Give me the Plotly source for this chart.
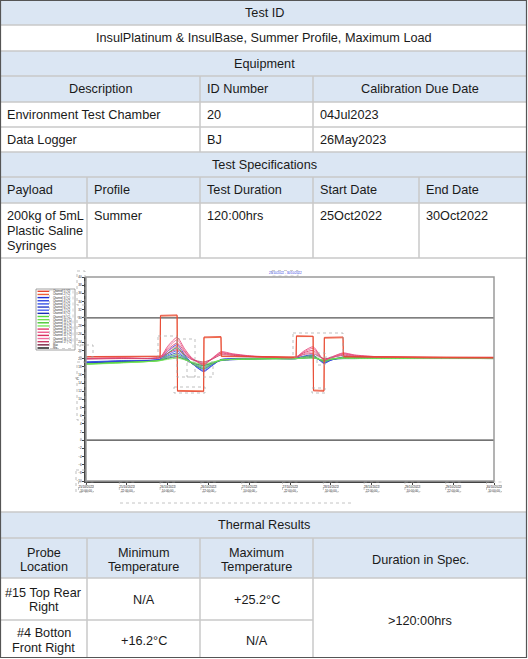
import pandas as pd
import plotly.graph_objects as go

# ---------------- table text ----------------
test_id_title = "Test ID"
test_name = "InsulPlatinum & InsulBase, Summer Profile, Maximum Load"
equipment_title = "Equipment"
equipment_header = ["Description", "ID Number", "Calibration Due Date"]
equipment_rows = [
    ["Environment Test Chamber", "20", "04Jul2023"],
    ["Data Logger", "BJ", "26May2023"],
]
spec_title = "Test Specifications"
spec_header = ["Payload", "Profile", "Test Duration", "Start Date", "End Date"]
spec_row = ["200kg of 5mL\nPlastic Saline\nSyringes", "Summer", "120:00hrs", "25Oct2022", "30Oct2022"]
thermal_title = "Thermal Results"
thermal_header = ["Probe\nLocation", "Minimum\nTemperature", "Maximum\nTemperature", "Duration in Spec."]
thermal_rows = [
    ["#15 Top Rear\nRight", "N/A", "+25.2°C"],
    ["#4 Botton\nFront Right", "+16.2°C", "N/A"],
]
duration_in_spec = ">120:00hrs"

# ---------------- logger data (hours from start, °C) ----------------
t_chamber = [0, 21.8, 21.9, 26.8, 26.9, 34.6, 34.7, 39.7, 39.8, 61.8, 61.9, 66.8, 66.9, 70.0, 70.1, 75.6, 75.7, 120]
chamber_1 = [20.5, 20.6, 30.6, 30.7, 12.0, 11.9, 25.3, 25.4, 20.6, 20.4, 25.6, 25.5, 12.1, 12.0, 25.2, 25.3, 20.5, 20.3]
chamber_2 = [20.4, 20.5, 30.4, 30.5, 12.2, 12.1, 25.1, 25.2, 20.5, 20.3, 25.4, 25.4, 12.3, 12.2, 25.0, 25.1, 20.4, 20.2]

t_probe = [0, 10, 21.8, 24, 26.8, 29, 31, 34.6, 37, 39.7, 43, 48, 55, 61.8, 64, 66.8, 70, 72, 75.6, 79, 85, 100, 120]
probe_3 = [19.2, 19.5, 19.9, 21.8, 23.4, 21.0, 19.0, 16.8, 18.2, 19.8, 20.0, 20.1, 20.1, 20.1, 20.6, 20.9, 18.8, 19.6, 20.4, 20.3, 20.2, 20.2, 20.2]
probe_4 = [19.1, 19.4, 19.8, 21.3, 22.6, 20.7, 18.9, 17.0, 18.3, 19.7, 19.9, 20.0, 20.1, 20.1, 20.5, 20.7, 19.0, 19.6, 20.3, 20.2, 20.2, 20.2, 20.1]
probe_5 = [19.1, 19.4, 19.8, 20.9, 21.9, 20.4, 18.9, 17.3, 18.5, 19.7, 19.9, 20.0, 20.0, 20.0, 20.4, 20.6, 19.1, 19.7, 20.3, 20.2, 20.1, 20.1, 20.1]
probe_6 = [19.0, 19.3, 19.7, 20.6, 21.4, 20.2, 18.9, 17.6, 18.6, 19.6, 19.8, 19.9, 20.0, 20.0, 20.3, 20.5, 19.3, 19.7, 20.2, 20.1, 20.1, 20.1, 20.1]
probe_7 = [19.0, 19.3, 19.7, 20.3, 20.9, 20.0, 19.0, 17.9, 18.8, 19.6, 19.8, 19.9, 20.0, 20.0, 20.2, 20.3, 19.4, 19.8, 20.1, 20.1, 20.1, 20.1, 20.1]
probe_8 = [18.9, 19.2, 19.6, 20.1, 20.5, 19.8, 19.0, 18.3, 18.9, 19.5, 19.7, 19.9, 20.0, 20.0, 20.1, 20.2, 19.5, 19.8, 20.0, 20.0, 20.1, 20.1, 20.0]
probe_9 = [18.7, 19.1, 19.6, 21.2, 22.8, 20.6, 18.9, 17.5, 18.6, 19.7, 19.8, 19.9, 20.0, 20.0, 20.4, 20.7, 19.2, 19.8, 20.3, 20.2, 20.1, 20.1, 20.1]
probe_10 = [18.7, 19.0, 19.6, 20.4, 21.0, 20.0, 19.0, 17.9, 18.8, 19.6, 19.8, 19.9, 20.0, 20.0, 20.2, 20.4, 19.4, 19.8, 20.2, 20.1, 20.1, 20.1, 20.1]
probe_11 = [18.6, 19.0, 19.5, 20.0, 20.4, 19.8, 19.1, 18.3, 19.0, 19.6, 19.8, 19.9, 20.0, 20.0, 20.1, 20.2, 19.6, 19.9, 20.1, 20.1, 20.1, 20.1, 20.0]
probe_12 = [18.6, 18.9, 19.5, 19.8, 20.1, 19.7, 19.2, 18.6, 19.1, 19.6, 19.8, 19.9, 19.9, 20.0, 20.1, 20.1, 19.7, 19.9, 20.0, 20.0, 20.0, 20.0, 20.0]
probe_13 = [20.1, 20.2, 20.4, 23.0, 25.2, 22.4, 20.3, 18.4, 20.0, 21.7, 21.2, 20.7, 20.4, 20.4, 21.8, 22.9, 19.6, 20.3, 21.4, 20.9, 20.5, 20.3, 20.3]
probe_14 = [20.0, 20.2, 20.3, 22.6, 24.6, 22.0, 20.1, 18.6, 19.9, 21.5, 21.1, 20.6, 20.4, 20.4, 21.6, 22.5, 19.7, 20.3, 21.3, 20.8, 20.5, 20.3, 20.3]
probe_15 = [20.0, 20.1, 20.3, 22.2, 23.8, 21.7, 20.0, 18.8, 19.9, 21.3, 21.0, 20.6, 20.3, 20.3, 21.4, 22.0, 19.8, 20.2, 21.1, 20.7, 20.4, 20.3, 20.2]
probe_16 = [19.9, 20.1, 20.2, 21.8, 23.0, 21.4, 19.9, 19.0, 19.9, 21.1, 20.9, 20.5, 20.3, 20.3, 21.2, 21.6, 19.9, 20.2, 21.0, 20.6, 20.4, 20.2, 20.2]
probe_17 = [19.9, 20.0, 20.2, 21.3, 22.2, 21.0, 19.8, 19.2, 19.8, 20.9, 20.8, 20.5, 20.3, 20.3, 21.0, 21.2, 20.0, 20.2, 20.8, 20.5, 20.4, 20.2, 20.2]

limit_hours = [0, 120]
upper_limit = [30, 30]
lower_limit = [0, 0]

start_time = pd.Timestamp("2022-10-25 10:00:00")
hour_ticks = list(range(0, 121, 12))
temp_ticks = list(range(-10, 41, 2))

legend_names = [f"Channel {i} (°C)" for i in range(1, 18)] + ["Max", "Min"]
legend_colors = ["#e5432f", "#f0603a",
                 "#1f2fd6", "#2f45e0", "#3a55e8", "#2538c8", "#4a60f0", "#1b2bb8",
                 "#55d93a", "#6ee04e", "#48c830", "#7ae860",
                 "#e23a6e", "#ec5a8c", "#d8305e", "#f070a0", "#c83a64",
                 "#7b2040", "#111111"]

# ---------------- helpers (pixel -> paper) ----------------
W, H = 528, 659
FONT = "Liberation Sans, Arial, Helvetica, sans-serif"
BLUE = "#dbe6f3"
GRID = "#c9c9c9"


def px(x):
    return x / W


def py(y):
    return 1 - y / H


shapes = []
annotations = []


def rect(x0, y0, x1, y1, fill=None, line=None, width=1, dash=None):
    shapes.append(dict(type="rect", xref="paper", yref="paper",
                       x0=px(x0), x1=px(x1), y0=py(y0), y1=py(y1),
                       fillcolor=fill or "rgba(0,0,0,0)",
                       line=dict(color=line or "rgba(0,0,0,0)", width=width if line else 0, dash=dash),
                       layer="below" if fill else "above"))


def hline(y, x0, x1, color=GRID, width=1.5, dash=None):
    shapes.append(dict(type="line", xref="paper", yref="paper", x0=px(x0), x1=px(x1), y0=py(y), y1=py(y),
                       line=dict(color=color, width=width, dash=dash)))


def vline(x, y0, y1, color=GRID, width=1.5):
    shapes.append(dict(type="line", xref="paper", yref="paper", x0=px(x), x1=px(x), y0=py(y0), y1=py(y1),
                       line=dict(color=color, width=width)))


def put(text, x, y, anchor="left", lh=15, top=False, size=12.7, color="#1a1a1a"):
    lines = text.split("\n")
    n = len(lines)
    for i, ln in enumerate(lines):
        yy = y + i * lh if top else y + (i - (n - 1) / 2) * lh
        annotations.append(dict(text=ln, x=px(x), y=py(yy), xref="paper", yref="paper",
                                xanchor=anchor, yanchor="middle", showarrow=False,
                                font=dict(family=FONT, size=size, color=color)))


def cell_text(text, c0, c1, y, align, **kw):
    if align == "center":
        put(text, (c0 + c1) / 2, y, "center", **kw)
    else:
        put(text, c0 + 5, y, "left", **kw)


# ---------------- table ----------------
row_y = [0, 25, 51, 76, 102, 127, 152, 177, 203, 258, 512, 538, 578, 620, 658]
blue_rows = [(0, 25), (51, 76), (76, 102), (152, 177), (177, 203), (512, 538), (538, 578)]
eq_cols = [0, 200, 313, 527]
spec_cols = [0, 87, 200, 313, 419, 527]
th_cols = [0, 87, 200, 313, 527]

for y0, y1 in blue_rows:
    rect(0, y0, 527, y1, fill=BLUE)
for y in row_y[1:-1]:
    hline(y, 0, 313 if y == 620 else 527)
for x in eq_cols[1:-1]:
    vline(x, 76, 152)
for x in spec_cols[1:-1]:
    vline(x, 177, 258)
for x in th_cols[1:-1]:
    vline(x, 538, 658)

put(test_id_title, 264, 13, "center")
put(test_name, 264, 38, "center")
put(equipment_title, 264, 63.5, "center")
for j, txt in enumerate(equipment_header):
    cell_text(txt, eq_cols[j], eq_cols[j + 1], 89, ["center", "left", "center"][j])
for i, row in enumerate(equipment_rows):
    for j, txt in enumerate(row):
        cell_text(txt, eq_cols[j], eq_cols[j + 1], 114.5 + 25 * i, "left")
put(spec_title, 264, 165, "center")
for j, txt in enumerate(spec_header):
    cell_text(txt, spec_cols[j], spec_cols[j + 1], 190, "left")
for j, txt in enumerate(spec_row):
    cell_text(txt, spec_cols[j], spec_cols[j + 1], 216, "left", top=True)
put(thermal_title, 264, 524.5, "center")
for j, txt in enumerate(thermal_header):
    cell_text(txt, th_cols[j], th_cols[j + 1], 560, "center", lh=14.5)
for i, row in enumerate(thermal_rows):
    for j, txt in enumerate(row):
        cell_text(txt, th_cols[j], th_cols[j + 1], 600 + 40.5 * i, "center", lh=14.5)
put(duration_in_spec, 420, 620.5, "center")

# outer border
rect(0.5, 0.5, 526.5, 657.5, line="#555555", width=1.2)

# ---------------- chart ----------------
fig = go.Figure()

probe_series = [
    ("Channel 3 (°C)", probe_3, 2), ("Channel 4 (°C)", probe_4, 3), ("Channel 5 (°C)", probe_5, 4),
    ("Channel 6 (°C)", probe_6, 5), ("Channel 7 (°C)", probe_7, 6), ("Channel 8 (°C)", probe_8, 7),
    ("Channel 9 (°C)", probe_9, 8), ("Channel 10 (°C)", probe_10, 9), ("Channel 11 (°C)", probe_11, 10),
    ("Channel 12 (°C)", probe_12, 11),
    ("Channel 13 (°C)", probe_13, 12), ("Channel 14 (°C)", probe_14, 13), ("Channel 15 (°C)", probe_15, 14),
    ("Channel 16 (°C)", probe_16, 15), ("Channel 17 (°C)", probe_17, 16),
]

fig.add_trace(go.Scatter(x=limit_hours, y=upper_limit, mode="lines", name="Max",
                         line=dict(color="#555555", width=1.3), showlegend=False))
fig.add_trace(go.Scatter(x=limit_hours, y=lower_limit, mode="lines", name="Min",
                         line=dict(color="#444444", width=1.3), showlegend=False))
for name, vals, ci in probe_series:
    fig.add_trace(go.Scatter(x=t_probe, y=vals, mode="lines", name=name,
                             line=dict(color=legend_colors[ci], width=0.8, shape="spline", smoothing=0.6),
                             showlegend=False))
fig.add_trace(go.Scatter(x=t_chamber, y=chamber_2, mode="lines", name="Channel 2 (°C)",
                         line=dict(color=legend_colors[1], width=0.9), showlegend=False))
fig.add_trace(go.Scatter(x=t_chamber, y=chamber_1, mode="lines", name="Channel 1 (°C)",
                         line=dict(color=legend_colors[0], width=0.9), showlegend=False))

# plot frame (top/right grey)
PX0, PX1, PY0, PY1 = 86, 494, 277, 481
rect(PX0, PY0, PX1, PY1, line="#9a9a9a", width=1.5)

# manual mini legend
rect(36, 289, 75, 350, fill="white", line="#8a8a8a", width=0.8)
rect(49.5, 290, 73, 348.5, line="#b0b0b0", width=0.6, dash="dot")
for i, (nm, col) in enumerate(zip(legend_names, legend_colors)):
    yy = 291.3 + i * 3.15
    hline(yy, 37.5, 49, color=col, width=1.4)
    put(nm, 50.5, yy, "left", size=2.6, color="#222222")

# chart title and axis captions
put("25/10/2022 - 30/10/2022", 285, 273, "center", size=3, color="#2a3be0")
rect(272, 270.5, 298, 276, line="#aaaaaa", width=0.6, dash="dot")
put("°C", 77, 379, "center", size=3.5, color="#333333")
hline(503, 120, 354, color="#b5b5b5", width=0.8, dash="dot")

# dotted note boxes from the logger software
note_boxes = [(80, 345, 93, 357), (158, 336, 177, 358), (177, 339, 195, 377), (187, 362, 213, 377),
              (174, 387, 205, 393), (293, 333, 343, 357), (312, 388, 325, 393), (317, 353, 325, 365),
              (77, 271, 85, 305), (77, 317, 85, 345), (77, 362, 85, 420), (76, 470, 86, 492)]
for b in note_boxes:
    rect(*b, line="#a5a5a5", width=0.7, dash="dot")
for h in hour_ticks:
    xc = PX0 + (PX1 - PX0) * h / 120
    rect(xc - 7.5, 482, xc + 7.5, 492, line="#a5a5a5", width=0.6, dash="dot")

tick_text = [(start_time + pd.Timedelta(hours=h)).strftime("%d/%m/%Y<br>%H:%M:%S") for h in hour_ticks]

fig.update_layout(
    width=W, height=H, autosize=False,
    margin=dict(l=0, r=0, t=0, b=0, pad=0),
    paper_bgcolor="white", plot_bgcolor="white",
    showlegend=False,
    shapes=shapes, annotations=annotations,
    xaxis=dict(domain=[px(PX0), px(PX1)], range=[0, 120], tickvals=hour_ticks, ticktext=tick_text,
               automargin=False,
               showgrid=False, zeroline=False, showline=True, linecolor="#444444", linewidth=1.5,
               ticks="outside", ticklen=2, tickcolor="#444444",
               tickfont=dict(family=FONT, size=3, color="#222222"), fixedrange=True),
    yaxis=dict(domain=[py(PY1), py(PY0)], range=[-10, 40], tickvals=temp_ticks,
               automargin=False,
               showgrid=False, zeroline=False, showline=True, linecolor="#444444", linewidth=1.5,
               ticks="outside", ticklen=2, tickcolor="#444444",
               tickfont=dict(family=FONT, size=3, color="#222222"), fixedrange=True),
)

# page without body margin so the 528x659 figure fills the window exactly
page_fix = ("document.body.style.margin='0';document.body.style.padding='0';"
            "document.body.style.overflow='hidden';")

fig.write_html("out.html", post_script=page_fix, config={"displayModeBar": False})
